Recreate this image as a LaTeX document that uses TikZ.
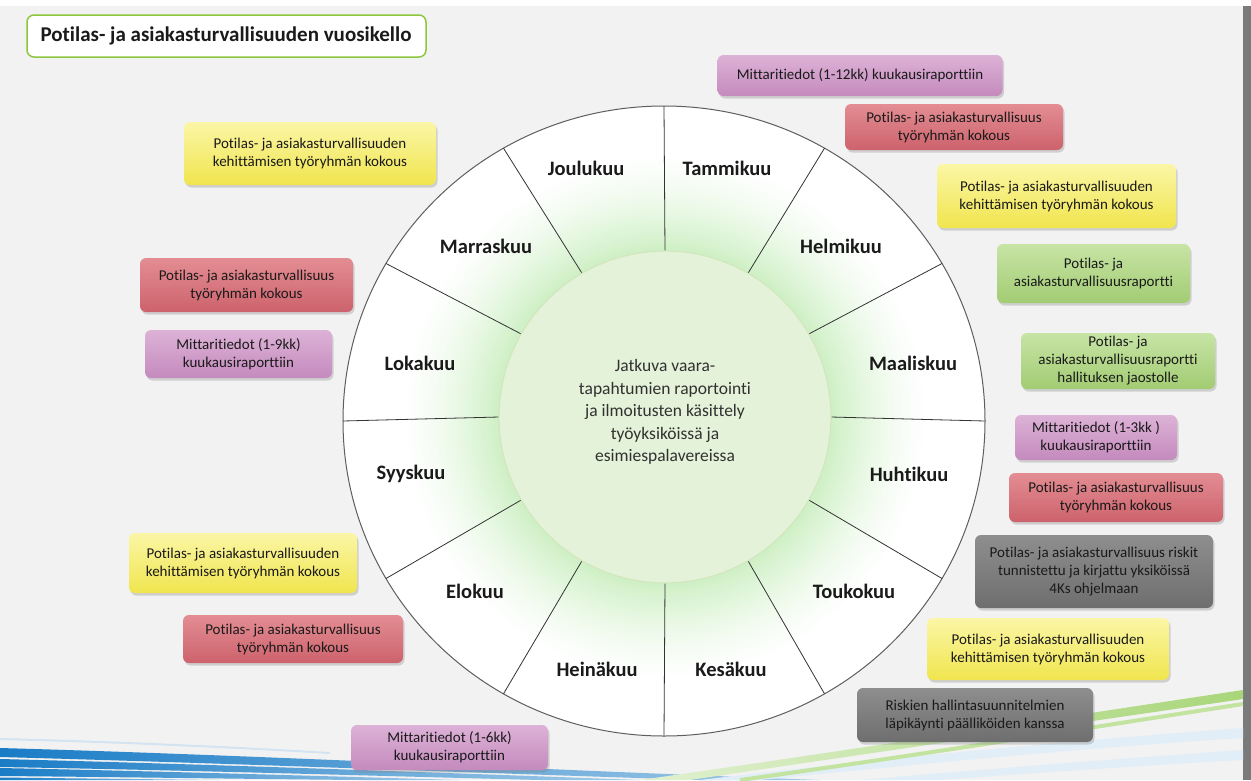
\documentclass[tikz,border=0pt]{standalone}
\usepackage{fontspec}
\setmainfont{Carlito}[Ligatures={NoCommon}]
\usetikzlibrary{shadows,calc}
\definecolor{bg}{HTML}{F2F2F2}
\definecolor{sidebar}{HTML}{7A7A7A}
\definecolor{titlegreen}{HTML}{8CC63E}
\definecolor{txt}{HTML}{1A1A1A}
\definecolor{glowg}{HTML}{CFF0C6}
\definecolor{innerg}{HTML}{E4F2D9}
\definecolor{innerb}{HTML}{D2E7BC}
\definecolor{ringline}{HTML}{5E5E5E}
\definecolor{spokecol}{HTML}{333333}
\definecolor{ylwtop}{HTML}{FBF6A6}
\definecolor{ylwbot}{HTML}{F0E54E}
\definecolor{redtop}{HTML}{E38D93}
\definecolor{redbot}{HTML}{CD626C}
\definecolor{purtop}{HTML}{DDB2D7}
\definecolor{purbot}{HTML}{C48ABD}
\definecolor{grntop}{HTML}{C7E4A5}
\definecolor{grnbot}{HTML}{A2CC73}
\definecolor{grytop}{HTML}{8E8E8E}
\definecolor{grybot}{HTML}{6E6E6E}
\definecolor{blueA}{HTML}{1A7CC6}
\definecolor{swgreen}{HTML}{A9D67A}
\definecolor{swgreenl}{HTML}{C3E3A0}
\definecolor{swpale}{HTML}{E2EEF7}
\tikzset{
  evbox/.style={rounded corners=6pt, draw=none, align=center, inner sep=0pt,
    font=\fontsize{15}{18}\selectfont, text=txt,
    drop shadow={shadow xshift=1.5pt, shadow yshift=-2.5pt, opacity=0.3}},
  ylwbox/.style={evbox, top color=ylwtop, bottom color=ylwbot},
  redbox/.style={evbox, top color=redtop, bottom color=redbot},
  purbox/.style={evbox, top color=purtop, bottom color=purbot},
  grnbox/.style={evbox, top color=grntop, bottom color=grnbot},
  grybox/.style={evbox, top color=grytop, bottom color=grybot},
  month/.style={font=\fontsize{20.5}{24}\bfseries\selectfont, text=txt},
  spoke/.style={draw=spokecol, line width=0.8pt},
  blueband/.style={left color=blueA, right color=blueA!40!white},
}
\begin{document}
\begin{tikzpicture}[x=1pt,y=-1pt]
\useasboundingbox (0,0) rectangle (1251,780);
% background
\fill[white] (0,0) rectangle (1251,6);
\fill[bg] (0,6) rectangle (1243,780);
\fill[sidebar] (1243,6) rectangle (1251,780);
% swooshes
\begin{scope}
\clip (0,6) rectangle (1243,780);
\draw[blueA!25!white, line width=2pt, opacity=0.7] (0,739) .. controls (120,742) and (230,747) .. (330,753);
\shade[blueband] (0,748) .. controls (250,755) and (550,770) .. (820,780) -- (700,780) .. controls (450,772) and (220,763) .. (0,757) -- cycle;
\shade[blueband] (0,759) .. controls (200,764) and (450,773) .. (640,780) -- (540,780) .. controls (380,776) and (180,770) .. (0,767) -- cycle;
\shade[blueband] (0,768) .. controls (150,771) and (320,776) .. (460,780) -- (360,780) .. controls (250,779) and (120,777) .. (0,776) -- cycle;
\shade[blueband] (0,777.5) -- (220,780) -- (0,780) -- cycle;
\fill[swpale] (1243,728) .. controls (1050,742) and (850,762) .. (700,780) -- (760,780) .. controls (900,766) and (1080,748) .. (1243,738) -- cycle;
\fill[swpale] (1243,750) .. controls (1100,760) and (950,772) .. (860,780) -- (940,780) .. controls (1050,772) and (1150,765) .. (1243,760) -- cycle;
\shade[left color=swgreen!35!white, right color=swgreen] (1243,690) .. controls (1050,719) and (850,750) .. (640,780) -- (690,780) .. controls (870,753) and (1060,726) .. (1243,699) -- cycle;
\draw[swgreenl, line width=4pt] (1243,704) .. controls (1100,726) and (920,755) .. (740,780);
\end{scope}
% title
\draw[titlegreen, line width=1.5pt, fill=white, rounded corners=7pt] (27,15) rectangle (426,57);
\node[anchor=west, font=\fontsize{21}{25}\bfseries\selectfont, text=txt] (title) at (37,36) {Potilas- ja asiakasturvallisuuden vuosikello};
% wheel
\fill[white] (664,421) ellipse [x radius=321, y radius=315];
\foreach \i in {0,...,50}{
  \pgfmathsetmacro{\rr}{268-2*\i}
  \pgfmathsetmacro{\pc}{100*(\i/50)^1.5}
  \fill[glowg!\pc!white] (665,417) circle [radius=\rr];
}
\draw[ringline, line width=1pt] (664,421) ellipse [x radius=321, y radius=315];
\foreach \a in {0,30,...,330}{
  \coordinate (si\a) at ({665+166*cos(\a)},{417-166*sin(\a)});
  \coordinate (so\a) at ({664+321*cos(\a)},{421-315*sin(\a)});
  \draw[spoke] (si\a) -- (so\a);
}
\draw[draw=innerb, line width=1.2pt, fill=innerg] (665,417) circle [radius=166];
\node[align=center, font=\fontsize{17.5}{22.5}\selectfont, text=txt!90] (center) at (665,412)
  {Jatkuva vaara-\\tapahtumien raportointi\\ja ilmoitusten käsittely\\työyksiköissä ja\\esimiespalavereissa};
% months
\node[month] (m1) at (727,168) {Tammikuu};
\node[month] (m2) at (841,246) {Helmikuu};
\node[month] (m3) at (913,363) {Maaliskuu};
\node[month] (m4) at (909,474) {Huhtikuu};
\node[month] (m5) at (854,591) {Toukokuu};
\node[month] (m6) at (731,669) {Kesäkuu};
\node[month] (m7) at (597,669) {Heinäkuu};
\node[month] (m8) at (475,591) {Elokuu};
\node[month] (m9) at (411,474) {Syyskuu};
\node[month] (m10) at (420,363) {Lokakuu};
\node[month] (m11) at (486,246) {Marraskuu};
\node[month] (m12) at (586,168) {Joulukuu};
% event boxes right
\node[purbox, minimum width=285, minimum height=41] (b1) at (860,75.5) {Mittaritiedot (1-12kk) kuukausiraporttiin};
\node[redbox, minimum width=218, minimum height=46] (b2) at (954,127) {Potilas- ja asiakasturvallisuus\\työryhmän kokous};
\node[ylwbox, minimum width=239, minimum height=64] (b3) at (1056.5,196) {Potilas- ja asiakasturvallisuuden\\kehittämisen työryhmän kokous};
\node[grnbox, minimum width=193, minimum height=59] (b4) at (1093.5,273.5) {Potilas- ja\\asiakasturvallisuusraportti};
\node[grnbox, minimum width=194, minimum height=56] (b5) at (1118,361) {Potilas- ja\\asiakasturvallisuusraportti\\hallituksen jaostolle};
\node[purbox, minimum width=162, minimum height=45] (b6) at (1096,437.5) {Mittaritiedot (1-3kk )\\kuukausiraporttiin};
\node[redbox, minimum width=214, minimum height=49] (b7) at (1116,497.5) {Potilas- ja asiakasturvallisuus\\työryhmän kokous};
\node[grybox, minimum width=238, minimum height=73] (b8) at (1094,571.5) {Potilas- ja asiakasturvallisuus riskit\\tunnistettu ja kirjattu yksiköissä\\4Ks ohjelmaan};
\node[ylwbox, minimum width=242, minimum height=62] (b9) at (1048,649) {Potilas- ja asiakasturvallisuuden\\kehittämisen työryhmän kokous};
\node[grybox, minimum width=236, minimum height=54] (b10) at (975,715) {Riskien hallintasuunnitelmien\\läpikäynti päälliköiden kanssa};
% event boxes left
\node[purbox, minimum width=197, minimum height=45] (b11) at (449.5,747.5) {Mittaritiedot (1-6kk)\\kuukausiraporttiin};
\node[redbox, minimum width=220, minimum height=48] (b12) at (293,639) {Potilas- ja asiakasturvallisuus\\työryhmän kokous};
\node[ylwbox, minimum width=228, minimum height=60] (b13) at (243,563) {Potilas- ja asiakasturvallisuuden\\kehittämisen työryhmän kokous};
\node[purbox, minimum width=187, minimum height=48] (b14) at (238.5,354) {Mittaritiedot (1-9kk)\\kuukausiraporttiin};
\node[redbox, minimum width=213, minimum height=54] (b15) at (246.5,285) {Potilas- ja asiakasturvallisuus\\työryhmän kokous};
\node[ylwbox, minimum width=252, minimum height=63] (b16) at (310,153.5) {Potilas- ja asiakasturvallisuuden\\kehittämisen työryhmän kokous};
\end{tikzpicture}
\end{document}
